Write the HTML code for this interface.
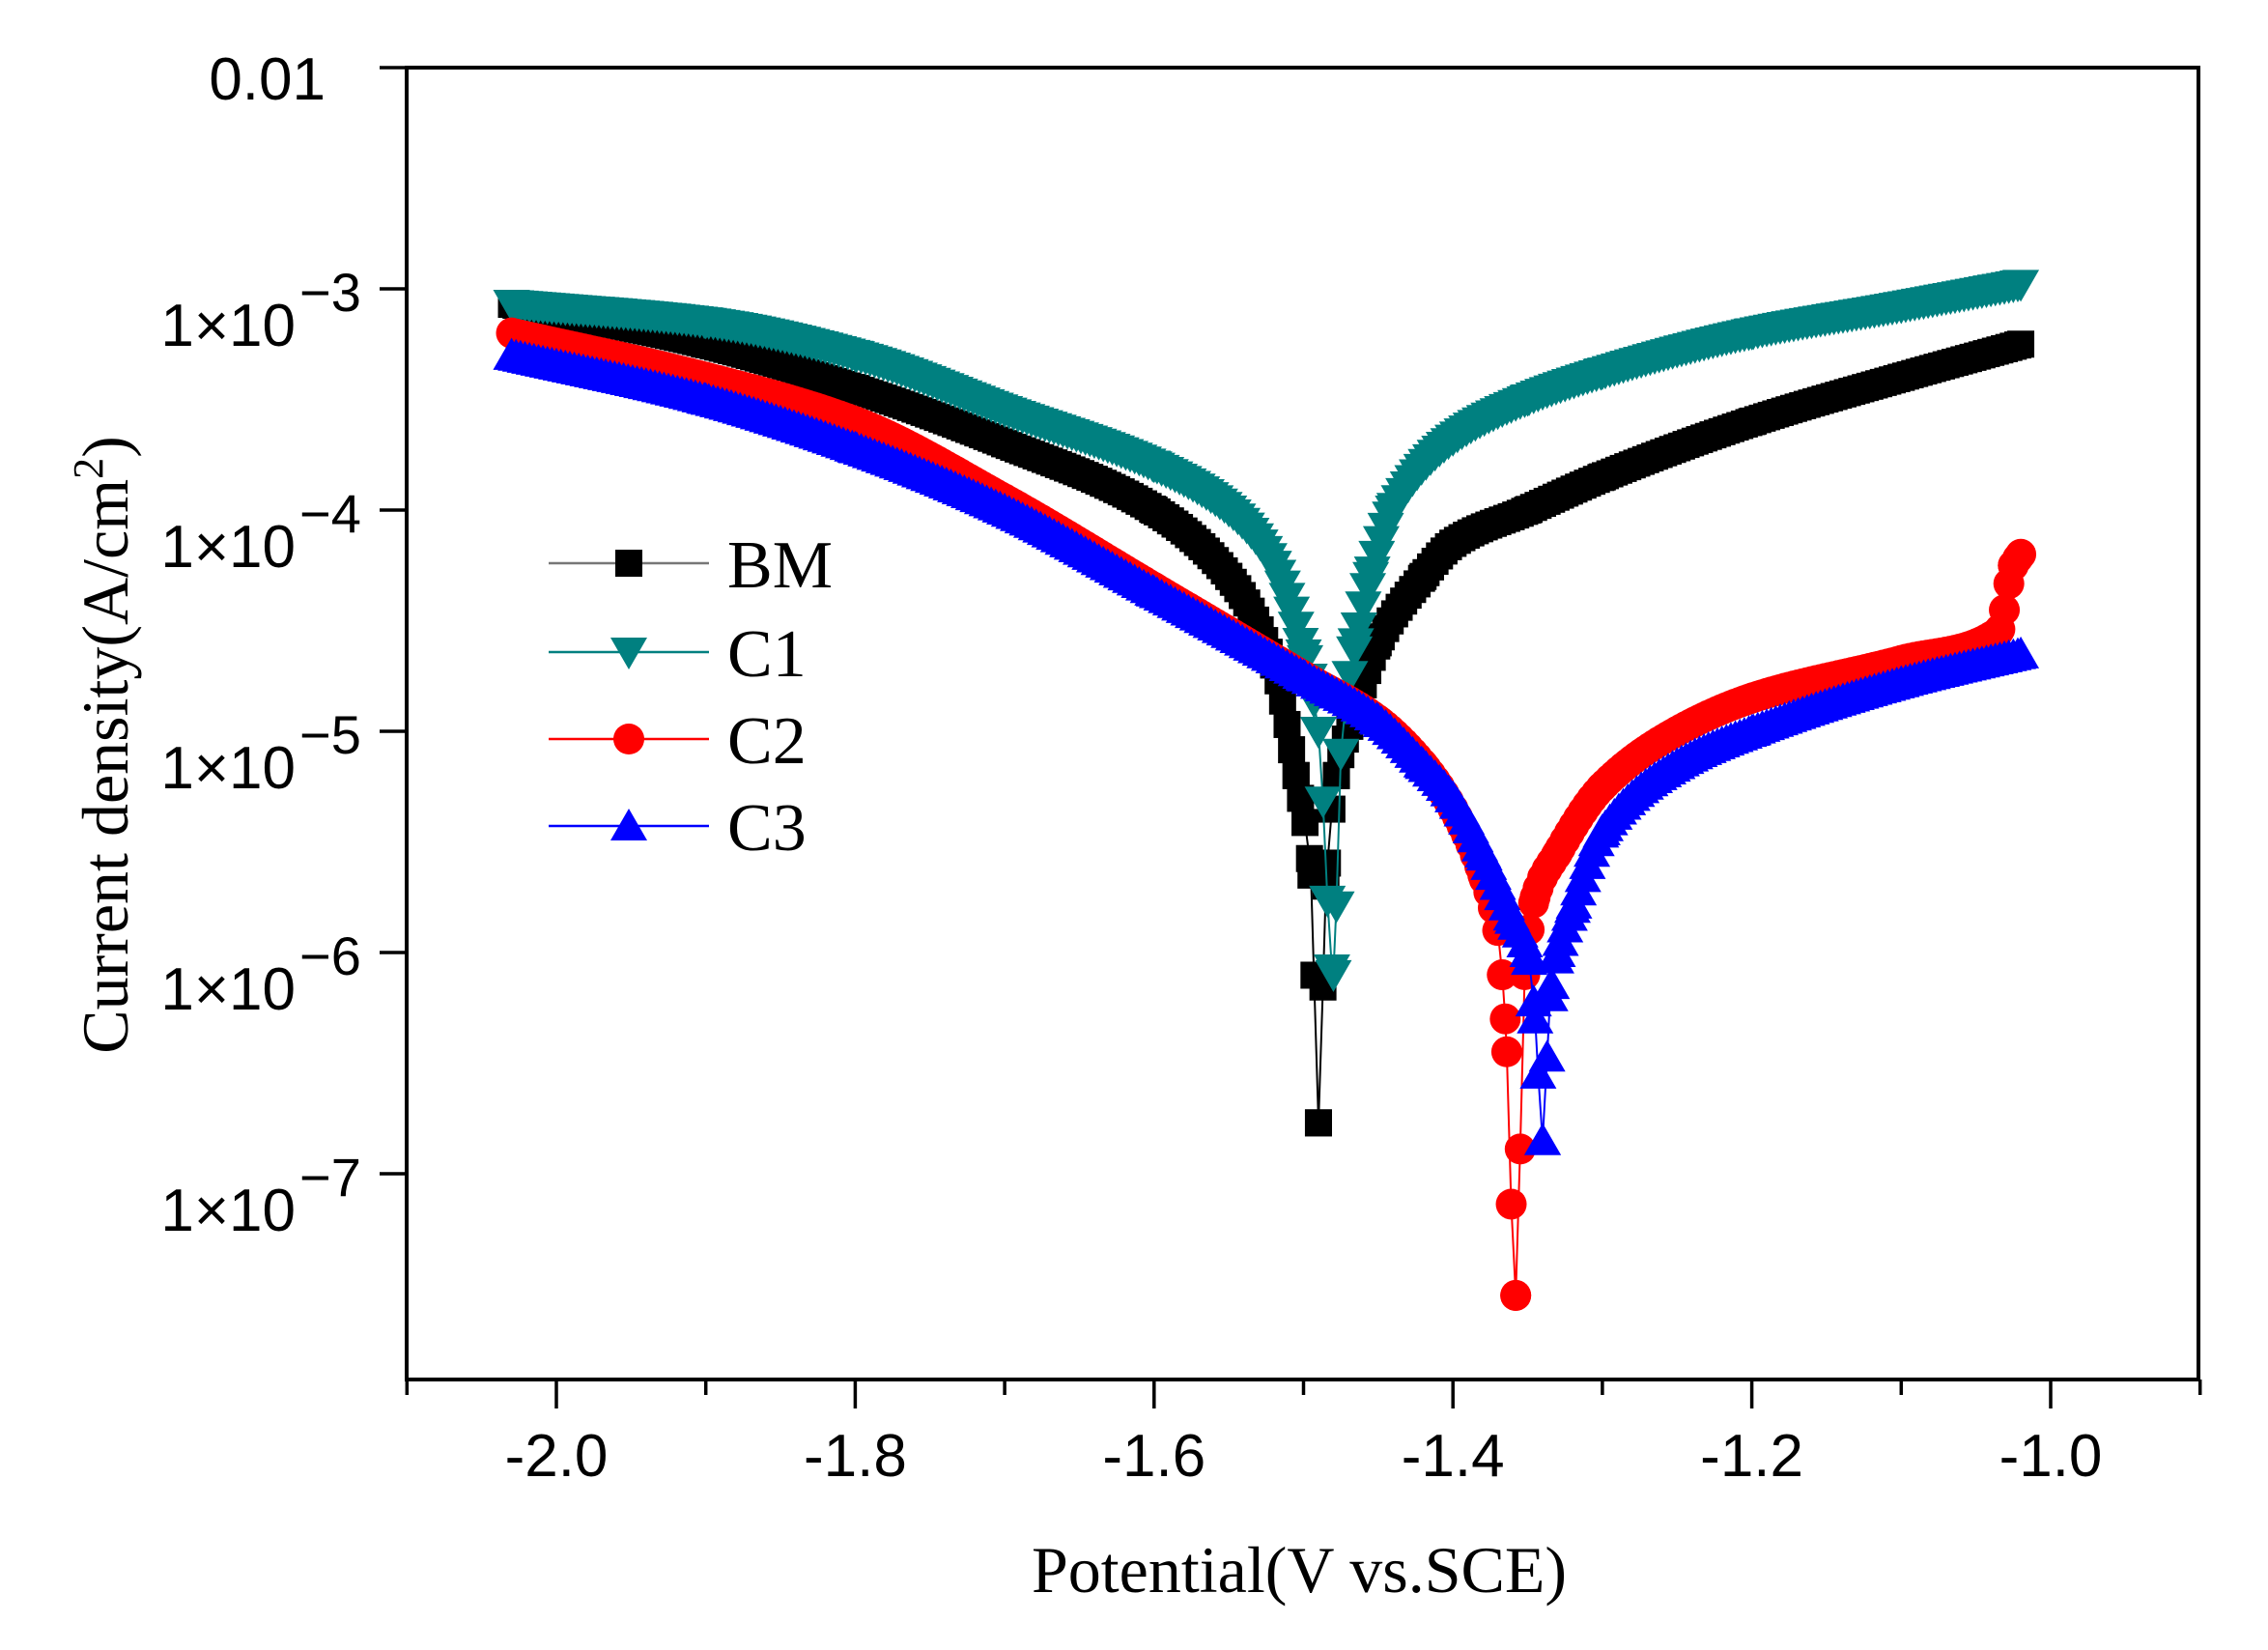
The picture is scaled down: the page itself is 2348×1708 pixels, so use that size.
<!DOCTYPE html>
<html><head><meta charset="utf-8"><style>
html,body{margin:0;padding:0;background:#fff;}
svg{display:block;}
</style></head><body>
<svg id="s" width="2348" height="1708" xmlns="http://www.w3.org/2000/svg">
<rect width="2348" height="1708" fill="#fff"/>
<g id="data"></g>
<rect x="421" y="70" width="1855" height="1358" fill="none" stroke="#000" stroke-width="4"/>
<g id="ticks" stroke="#000" stroke-width="3.5"></g>
<g font-family="Liberation Sans, sans-serif" font-size="62" fill="#000" text-anchor="middle" id="xl"></g>
<g font-family="Liberation Sans, sans-serif" fill="#000" id="yl"></g>
<text x="1345" y="1648" font-family="Liberation Serif, serif" font-size="68" text-anchor="middle">Potential(V vs.SCE)</text>
<text transform="translate(132,771) rotate(-90)" font-family="Liberation Serif, serif" font-size="68" text-anchor="middle">Current density(A/cm<tspan dy="-26" font-size="44">2</tspan><tspan dy="26">)</tspan></text>
<g id="leg"></g>
</svg>
<script>
var NS="http://www.w3.org/2000/svg";
function X(v){return 576+(v+2.0)*1547;}
function Y(l){return 70+(-2-l)*229;}
function el(p,t,a,txt){var e=document.createElementNS(NS,t);for(var k in a)e.setAttribute(k,a[k]);if(txt!==undefined)e.textContent=txt;p.appendChild(e);return e;}
var tk=document.getElementById('ticks'),xl=document.getElementById('xl'),yl=document.getElementById('yl');
for(var i=0;i<=12;i++){var v=-2.1+i*0.1;var x=X(v);var maj=(i%2==1);el(tk,'line',{x1:x,y1:1428,x2:x,y2:maj?1458:1444});
 if(maj)el(xl,'text',{x:x,y:1528},v.toFixed(1));}
for(var d=0;d<6;d++){var y=70+d*229;el(tk,'line',{x1:393,y1:y,x2:421,y2:y});}
el(yl,'text',{x:337,y:103,'font-size':62,'text-anchor':'end'},'0.01');
for(var d=1;d<=5;d++){var y=70+d*229;
 el(yl,'text',{x:306,y:y+59,'font-size':62,'text-anchor':'end'},'1\u00d710');
 el(yl,'text',{x:310,y:y+23,'font-size':56},'\u2212'+(d+2));}
var S={
BM:[[-2.03,-3.07],[-1.9,-3.25],[-1.8,-3.45],[-1.7,-3.7],[-1.6,-4.0],[-1.55,-4.3],[-1.52,-4.7],[-1.505,-5.2],[-1.495,-5.65],[-1.49,-6.77],[-1.485,-5.7],[-1.478,-5.2],[-1.465,-4.9],[-1.45,-4.6],[-1.42,-4.3],[-1.4,-4.15],[-1.35,-4.0],[-1.3,-3.85],[-1.2,-3.6],[-1.1,-3.4],[-1.02,-3.25]],
C1:[[-2.03,-3.07],[-1.9,-3.15],[-1.8,-3.3],[-1.7,-3.55],[-1.6,-3.8],[-1.55,-4.0],[-1.52,-4.25],[-1.5,-4.65],[-1.49,-5.0],[-1.48,-6.1],[-1.475,-5.1],[-1.465,-4.6],[-1.455,-4.3],[-1.44,-4.0],[-1.4,-3.68],[-1.35,-3.5],[-1.3,-3.38],[-1.2,-3.2],[-1.1,-3.08],[-1.02,-2.98]],
C2:[[-2.03,-3.2],[-1.9,-3.4],[-1.8,-3.6],[-1.7,-3.95],[-1.6,-4.35],[-1.5,-4.75],[-1.45,-4.95],[-1.42,-5.15],[-1.4,-5.35],[-1.38,-5.65],[-1.37,-5.9],[-1.365,-6.3],[-1.358,-7.55],[-1.352,-6.1],[-1.345,-5.75],[-1.33,-5.55],[-1.3,-5.25],[-1.25,-5.0],[-1.2,-4.85],[-1.1,-4.68],[-1.035,-4.55],[-1.025,-4.25],[-1.02,-4.2]],
C3:[[-2.03,-3.3],[-1.9,-3.5],[-1.8,-3.72],[-1.7,-4.0],[-1.6,-4.37],[-1.5,-4.75],[-1.45,-4.95],[-1.42,-5.15],[-1.4,-5.3],[-1.38,-5.55],[-1.36,-5.85],[-1.35,-6.0],[-1.345,-6.3],[-1.34,-6.85],[-1.335,-6.2],[-1.33,-6.0],[-1.32,-5.8],[-1.3,-5.45],[-1.25,-5.15],[-1.2,-5.0],[-1.1,-4.78],[-1.02,-4.65]]};
var C={BM:'#000',C1:'#008080',C2:'#ff0000',C3:'#0000ff'};
function slopes(k){var n=k.length,h=[],dl=[],m=[];
 for(var i=0;i<n-1;i++){h[i]=k[i+1][0]-k[i][0];dl[i]=(k[i+1][1]-k[i][1])/h[i];}
 m[0]=dl[0];m[n-1]=dl[n-2];
 for(var i=1;i<n-1;i++){if(dl[i-1]*dl[i]<=0)m[i]=0;else{var w1=2*h[i]+h[i-1],w2=h[i]+2*h[i-1];m[i]=(w1+w2)/(w1/dl[i-1]+w2/dl[i]);}}
 return m;}
function interp(k,m,v){for(var i=0;i<k.length-1;i++){if(v>=k[i][0]&&v<=k[i+1][0]){var h=k[i+1][0]-k[i][0],t=(v-k[i][0])/h;
 var t2=t*t,t3=t2*t;return (2*t3-3*t2+1)*k[i][1]+(t3-2*t2+t)*h*m[i]+(-2*t3+3*t2)*k[i+1][1]+(t3-t2)*h*m[i+1];}}return k[k.length-1][1];}
function marker(g,n,x,y,c){
 if(n=='BM')el(g,'rect',{x:x-14,y:y-14,width:28,height:28,fill:c});
 else if(n=='C1')el(g,'polygon',{points:(x-19)+','+(y-15)+' '+(x+19)+','+(y-15)+' '+x+','+(y+18),fill:c});
 else if(n=='C2')el(g,'circle',{cx:x,cy:y,r:16,fill:c});
 else el(g,'polygon',{points:(x-19)+','+(y+15)+' '+(x+19)+','+(y+15)+' '+x+','+(y-18),fill:c});}
var dg=document.getElementById('data');
['BM','C1','C2','C3'].forEach(function(n){var k=S[n];var m=slopes(k);var pts=[];
 for(var v=k[0][0];v<=k[k.length-1][0]+1e-9;v+=0.003)pts.push(v);
 k.forEach(function(p){pts.push(p[0]);});pts.sort(function(a,b){return a-b;});
 var g=el(dg,'g',{});var d='';
 pts.forEach(function(v,i){var x=X(v),y=Y(interp(k,m,v));d+=(i?'L':'M')+x.toFixed(1)+' '+y.toFixed(1);});
 el(g,'path',{d:d,fill:'none',stroke:C[n],'stroke-width':2});
 pts.forEach(function(v){marker(g,n,X(v),Y(interp(k,m,v)),C[n]);});
});
var lg=document.getElementById('leg');var ly=[583,675,765,855];
['BM','C1','C2','C3'].forEach(function(n,i){var c=n=='BM'?'#777':C[n];
 el(lg,'line',{x1:568,y1:ly[i],x2:734,y2:ly[i],stroke:c,'stroke-width':2.5});
 marker(lg,n,651,ly[i],C[n]);
 el(lg,'text',{x:753,y:ly[i]+25,'font-family':'Liberation Serif, serif','font-size':70},n);});
</script>
</body></html>
